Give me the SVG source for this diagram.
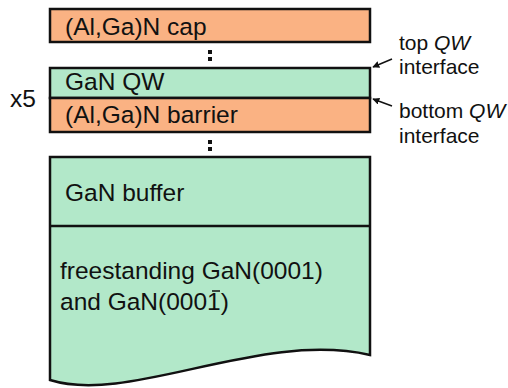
<svg xmlns="http://www.w3.org/2000/svg" width="508" height="388" viewBox="0 0 508 388">
<style>
.o{fill:#FAB283;stroke:#111;stroke-width:2.5}
.g{fill:#B2E8C9;stroke:#111;stroke-width:2.5}
.t{font-family:"Liberation Sans",Arial,sans-serif;font-size:24.5px;fill:#111}
.s{font-family:"Liberation Sans",Arial,sans-serif;font-size:21px;fill:#111}
.d{fill:#111}
.a{stroke:#111;stroke-width:1.5;fill:none;marker-end:url(#ah)}
</style>
<defs>
<marker id="ah" viewBox="0 0 10 10" refX="9" refY="5" markerWidth="7" markerHeight="7" orient="auto" markerUnits="userSpaceOnUse">
<path d="M0,0 L10,5 L0,10 z" fill="#111"/>
</marker>
</defs>
<rect width="508" height="388" fill="#fff"/>
<g id="cap">
<rect class="o" x="50" y="9" width="320" height="33"/>
<text class="t" x="65" y="35">(Al,Ga)N cap</text>
</g>
<g id="dots1">
<rect class="d" x="208" y="50" width="4" height="4"/>
<rect class="d" x="208" y="57" width="4" height="4"/>
</g>
<g id="qw">
<rect class="g" x="50" y="68" width="320" height="30"/>
<text class="t" x="65" y="90">GaN QW</text>
</g>
<g id="barrier">
<rect class="o" x="50" y="98" width="320" height="34"/>
<text class="t" x="65" y="123">(Al,Ga)N barrier</text>
</g>
<g id="x5">
<text class="t" x="10" y="107">x5</text>
</g>
<g id="dots2">
<rect class="d" x="208" y="140" width="4" height="4"/>
<rect class="d" x="208" y="147" width="4" height="4"/>
</g>
<g id="buffer">
<path class="g" d="M50,157 H370 V355 C260,330 130,405 50,380 Z"/>
<line x1="50" y1="226" x2="370" y2="226" stroke="#111" stroke-width="2.5"/>
<text class="t" x="65" y="201">GaN buffer</text>
</g>
<g id="substrate">
<text class="t" x="60" y="279">freestanding GaN(0001)</text>
<text class="t" x="60" y="310">and GaN(0001)</text>
<line x1="212" y1="291" x2="220" y2="291" stroke="#111" stroke-width="1.5"/>
</g>
<g id="labels">
<text class="s" x="399" y="50">top <tspan font-style="italic">QW</tspan></text>
<text class="s" x="399" y="74">interface</text>
<text class="s" x="399" y="118">bottom <tspan font-style="italic">QW</tspan></text>
<text class="s" x="399" y="143">interface</text>
</g>
<g id="connectors">
<line class="a" x1="392" y1="59" x2="373" y2="67"/>
<line class="a" x1="392" y1="106" x2="373" y2="99"/>
</g>
</svg>
